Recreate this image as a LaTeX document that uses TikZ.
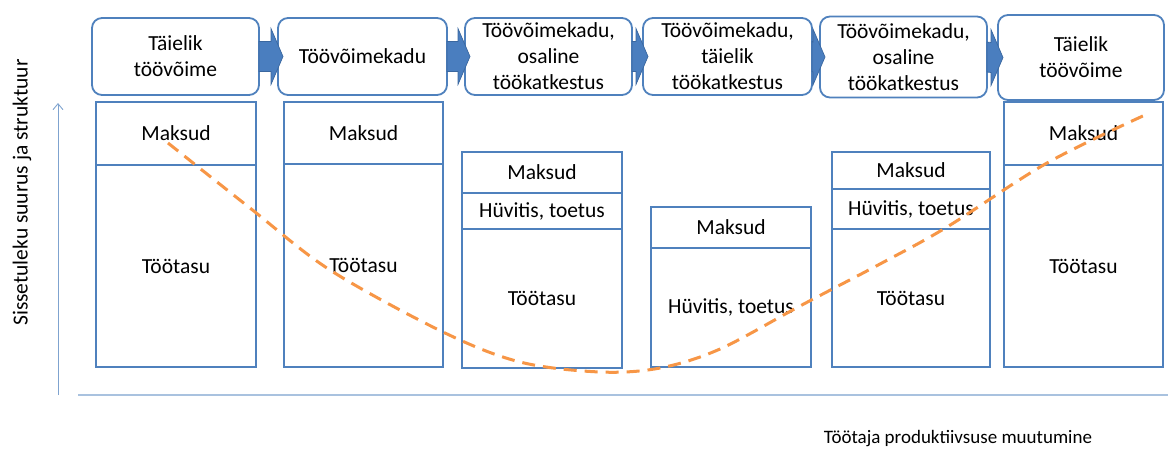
\documentclass[tikz,border=0pt]{standalone}
\usepackage{fontspec}
\setmainfont{Carlito}
\usetikzlibrary{calc,arrows.meta,positioning}
\definecolor{boxblue}{HTML}{4F81BD}
\definecolor{arrblue}{HTML}{4A7EBF}
\definecolor{arredge}{HTML}{3A679F}
\definecolor{axblue}{HTML}{A9C2DF}
\definecolor{yaxblue}{HTML}{7FA3CF}
\definecolor{curveorange}{HTML}{F79646}

\begin{document}
\begin{tikzpicture}[x=1pt,y=-1pt,
    stage/.style={draw=boxblue,line width=1.8pt,rounded corners=10pt,fill=white,
        align=center,inner sep=0pt,outer sep=0pt,font=\fontsize{21.5}{26}\selectfont},
    part/.style={draw=boxblue,line width=1.8pt,inner sep=0pt,outer sep=0pt,fill=white,
        font=\fontsize{21.5}{26}\selectfont},
    flowarrow/.style={fill=arrblue,draw=arredge,line width=0.7pt,line join=miter},
    lbl/.style={font=\fontsize{19}{22}\selectfont}]
    \useasboundingbox (0,0) rectangle (1168,451);
    % axes
    \coordinate (o) at (58,395);
    \coordinate (ytop) at (58,103);
    \coordinate (xs) at (78,395);
    \coordinate (xe) at (1168,395);
    \draw[axblue,line width=1.3pt] (xs)--(xe);
    \draw[yaxblue,line width=0.9pt,-{Straight Barb[length=6pt,width=10pt]}] (o)--(ytop);
    \node[lbl,font=\fontsize{21.5}{24}\selectfont,rotate=90] (ylab) at (22,192.5) {Sissetuleku suurus ja struktuur};
    \node[lbl] (xlab) at (958,439) {Töötaja produktiivsuse muutumine};
    % stages
    \node[stage,minimum width=167,minimum height=77] (t1) at (175.5,56.5) {Täielik\\töövõime};
    \node[stage,minimum width=169,minimum height=77] (t2) at (362.5,56.5) {Töövõimekadu};
    \node[stage,minimum width=167,minimum height=77] (t3) at (548.5,56.5) {Töövõimekadu,\\osaline\\töökatkestus};
    \node[stage,minimum width=169,minimum height=77] (t4) at (727.5,56.5) {Töövõimekadu,\\täielik\\töökatkestus};
    \node[stage,minimum width=167,minimum height=81] (t5) at (903.5,57) {Töövõimekadu,\\osaline\\töökatkestus};
    \node[stage,minimum width=166,minimum height=85] (t6) at (1081,57.5) {Täielik\\töövõime};
    \foreach \a/\b in {t1/t2,t2/t3,t3/t4,t4/t5,t5/t6}{
        \filldraw[flowarrow] ($(\a.east)+(0,-15)$) -- ($(\b.west)+(-7,-15)$)
            -- ($(\b.west)+(-7,-28)$) -- ($(\b.west)+(5,0)$) -- ($(\b.west)+(-7,28)$)
            -- ($(\b.west)+(-7,15)$) -- ($(\a.east)+(0,15)$) -- cycle;
    }
    % income columns
    \node[part,minimum width=160,minimum height=63,anchor=north west] (m1) at (96,102) {Maksud};
    \node[part,minimum width=160,minimum height=202,anchor=north] (p1) at (m1.south) {Töötasu};
    \node[part,minimum width=159,minimum height=62,anchor=north west] (m2) at (284,102) {Maksud};
    \node[part,minimum width=159,minimum height=203,anchor=north] (p2) at (m2.south) {Töötasu};
    \node[part,minimum width=160,minimum height=41,anchor=north west] (m3) at (462,152) {Maksud};
    \node[part,minimum width=160,minimum height=36,anchor=north] (h3) at (m3.south) {Hüvitis, toetus};
    \node[part,minimum width=160,minimum height=139,anchor=north] (p3) at (h3.south) {Töötasu};
    \node[part,minimum width=160,minimum height=41,anchor=north west] (m4) at (651,207) {Maksud};
    \node[part,minimum width=160,minimum height=119,anchor=north] (h4) at (m4.south) {Hüvitis, toetus};
    \node[part,minimum width=158,minimum height=37,anchor=north west] (m5) at (832,152) {Maksud};
    \node[part,minimum width=158,minimum height=40,anchor=north] (h5) at (m5.south) {Hüvitis, toetus};
    \node[part,minimum width=158,minimum height=138,anchor=north] (p5) at (h5.south) {Töötasu};
    \node[part,minimum width=159,minimum height=63,anchor=north west] (m6) at (1004,102) {Maksud};
    \node[part,minimum width=159,minimum height=202,anchor=north] (p6) at (m6.south) {Töötasu};
    % income curve
    \draw[curveorange,line width=3pt,dash pattern=on 13pt off 8pt]
        plot[smooth,tension=0.55] coordinates {(168,143) (250,208) (330,270) (443,332)
        (520,362) (600,372) (660,368) (720,349) (800,306) (880,264) (947,227)
        (1047,163) (1145,115)};
\end{tikzpicture}
\end{document}
